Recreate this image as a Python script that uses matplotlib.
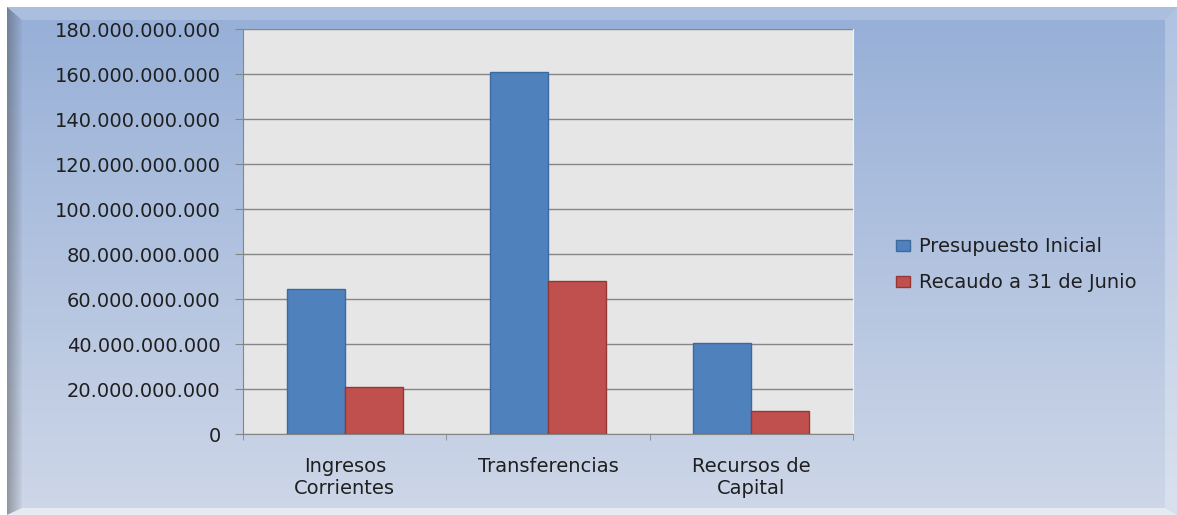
import matplotlib.pyplot as plt
import numpy as np
from matplotlib.patches import Polygon

# data
categorias = ['Ingresos\nCorrientes', 'Transferencias', 'Recursos de\nCapital']
presupuesto_inicial = [64.7e9, 161.0e9, 40.7e9]
recaudo_junio = [20.9e9, 68.1e9, 10.5e9]
y_ticks = np.arange(0, 181e9, 20e9)

W, H = 1177, 515
fig = plt.figure(figsize=(W / 100, H / 100), dpi=100)
fig.patch.set_facecolor('white')

# background frame with gradient and bevel
bg = fig.add_axes([0, 0, 1, 1], zorder=-1)
bg.set_xlim(0, W)
bg.set_ylim(H, 0)
bg.axis('off')

top_c = np.array([150, 175, 215]) / 255
bot_c = np.array([206, 215, 232]) / 255
t = np.linspace(0, 1, 256)[:, None]
grad = top_c[None, :] * (1 - t) + bot_c[None, :] * t
grad = np.repeat(grad[:, None, :], 2, axis=1)
bg.imshow(grad, extent=[7, W, H, 7], aspect='auto', interpolation='bilinear')

x0, y0, x1, y1 = 7, 7, W, H
ix0, iy0, ix1, iy1 = 22, 20, 1165, 508
bg.add_patch(Polygon([(x0, y0), (x1, y0), (ix1, iy0), (ix0, iy0)],
                     closed=True, facecolor='white', alpha=0.2, lw=0))
bg.add_patch(Polygon([(x1, y0), (x1, y1), (ix1, iy1), (ix1, iy0)],
                     closed=True, facecolor='white', alpha=0.25, lw=0))
bg.add_patch(Polygon([(x0, y1), (x1, y1), (ix1, iy1), (ix0, iy1)],
                     closed=True, facecolor='white', alpha=0.5, lw=0))
left = Polygon([(x0, y0), (ix0, iy0), (ix0, iy1), (x0, y1)],
               closed=True, facecolor='none', lw=0)
bg.add_patch(left)
s = np.linspace(0, 1, 64)[None, :]
shade = np.zeros((2, 64, 4))
shade[..., 0:3] = 0.25
shade[..., 3] = 0.38 * (1 - s) + 0.04
im = bg.imshow(shade, extent=[x0, ix0, H, 7], aspect='auto', interpolation='bilinear')
im.set_clip_path(left)

# chart
ax = fig.add_axes([243.3 / W, 1 - 434.3 / H, 609.4 / W, 405 / H])
ax.set_facecolor('#e6e6e6')

x = np.arange(len(categorias))
bw = 0.2857
ax.bar(x - bw / 2, presupuesto_inicial, bw, color='#4f81bd', edgecolor='#3d6a9e',
       linewidth=1, label='Presupuesto Inicial', zorder=3)
ax.bar(x + bw / 2, recaudo_junio, bw, color='#c0504d', edgecolor='#953735',
       linewidth=1, label='Recaudo a 31 de Junio', zorder=3)

ax.set_xlim(-0.5, 2.5)
ax.set_ylim(0, 180e9)
ax.set_yticks(y_ticks)
ax.set_yticklabels([f'{v:,.0f}'.replace(',', '.') for v in y_ticks])
ax.yaxis.grid(True, color='#868686', linewidth=1.0, zorder=0)
ax.set_axisbelow(True)

ax.set_xticks(x)
ax.set_xticklabels(categorias, linespacing=1.2)
ax.set_xticks(np.arange(-0.5, 3, 1), minor=True)
ax.tick_params(axis='x', which='major', length=0, pad=16, labelsize=14, labelcolor='#1f1f1f')
ax.tick_params(axis='x', which='minor', length=4, color='#868686', direction='out')
ax.tick_params(axis='y', length=5.8, color='#868686', direction='out', pad=10.5,
               labelsize=14, labelcolor='#1f1f1f')

ax.spines['top'].set_visible(False)
ax.spines['right'].set_color('#f2f2f2')
ax.spines['left'].set_color('#868686')
ax.spines['bottom'].set_color('#868686')

fig.legend(loc='center left', bbox_to_anchor=(895.7 / W, 1 - 264.7 / H),
           frameon=False, fontsize=14, handlelength=0.76, handleheight=0.5,
           handletextpad=0.45, labelspacing=0.85, borderpad=0, borderaxespad=0,
           labelcolor='#1f1f1f')

fig.savefig('out.png', dpi=100)
